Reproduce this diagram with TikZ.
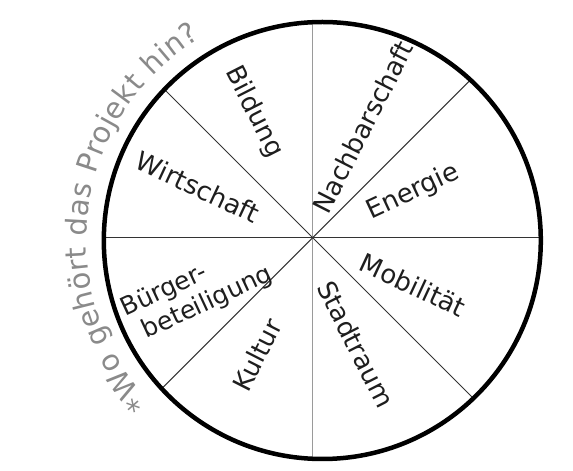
\documentclass[tikz,border=0pt]{standalone}
\usepackage{fontspec}
\setmainfont{DejaVu Sans}
\usetikzlibrary{decorations.text}
\definecolor{curvegray}{HTML}{8A8A8A}
\definecolor{spokegray}{HTML}{9A9A9A}
\definecolor{spokedark}{HTML}{333333}
\definecolor{labink}{HTML}{1E1E1E}
\newcommand{\curvefont}{\fontsize{29}{34}\selectfont}
\begin{document}
\begin{tikzpicture}[x=1pt,y=1pt,
  rim/.style={line width=4.5pt,draw=black},
  spoke/.style={line width=1pt,draw=spokedark},
  vspoke/.style={line width=1.2pt,draw=spokegray},
  lab/.style={font=\fontsize{26}{30}\selectfont,text=labink,inner sep=0pt}]
\useasboundingbox (0,0) rectangle (573,471);
\coordinate (C) at (322.3,230.5);
\coordinate (O) at (312.7,233.3);
\coordinate (pN) at (312.7,448.8);
\coordinate (pS) at (312.7,12.2);
\coordinate (pE) at (540.8,233.3);
\coordinate (pW) at (103.8,233.3);
\coordinate (pNE) at (470.5,391.1);
\coordinate (pNW) at (164.4,381.6);
\coordinate (pSE) at (473.4,72.6);
\coordinate (pSW) at (161.7,82.3);
\draw[vspoke] (pN) -- (pS);
\draw[spoke] (pW) -- (pE);
\draw[spoke] (pNW) -- (pSE);
\draw[spoke] (pNE) -- (pSW);
\draw[rim] (C) circle[radius=218.5];
\node[lab,rotate=-63] (bildung) at (254,359) {Bildung};
\node[lab,rotate=-25] (wirtschaft) at (198,284) {Wirtschaft};
\node[lab,rotate=63] (nachbar) at (363,344) {Nachbarschaft};
\node[lab,rotate=25] (energie) at (413,279) {Energie};
\node[lab,rotate=-25] (mobil) at (413,186) {Mobilität};
\node[lab,rotate=-63] (stadt) at (356,127) {Stadtraum};
\node[lab,rotate=63] (kultur) at (257,116) {Kultur};
\node[lab,rotate=25,align=left,font=\fontsize{25}{29}\selectfont] (buerger) at (197,179) {Bürger-\\\hspace*{10pt}beteiligung};
\path[decorate,decoration={text along path,
  text={|\color{curvegray}\curvefont|*Wo gehört das Projekt hin?},
  text align=fit to path}]
  ([shift={(223:236)}]C) arc[start angle=223,end angle=121,radius=236];
\end{tikzpicture}
\end{document}
